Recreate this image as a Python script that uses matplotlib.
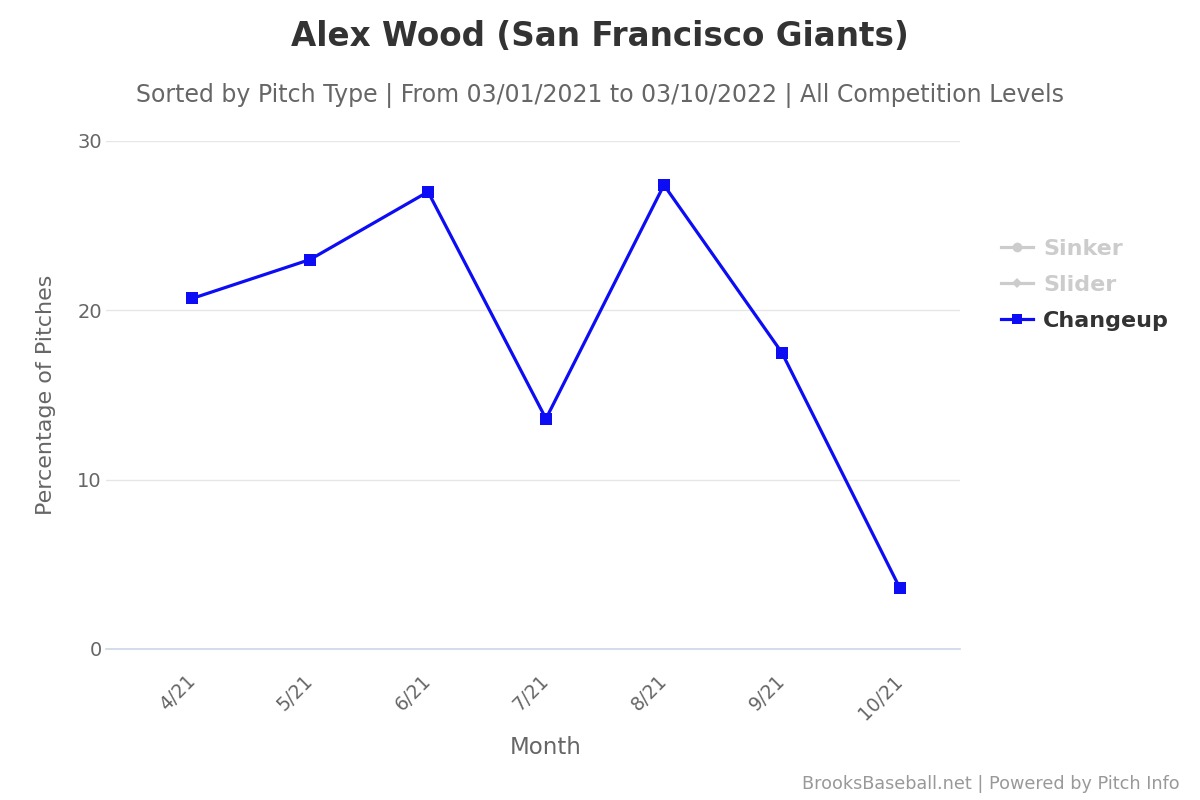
import matplotlib
matplotlib.use("Agg")
import matplotlib.pyplot as plt
from matplotlib.lines import Line2D

plt.rcParams["font.family"] = ["DejaVu Sans"]

months = ["4/21", "5/21", "6/21", "7/21", "8/21", "9/21", "10/21"]
changeup = [20.7, 23.0, 27.0, 13.6, 27.4, 17.5, 3.6]
legend_names = ["Sinker", "Slider", "Changeup"]
y_ticks = [0, 10, 20, 30]

fig = plt.figure(figsize=(12, 8), dpi=100)
ax = fig.add_axes([106/1200, 1-649/800, (960-106)/1200, (649-141)/800])

x = list(range(len(months)))
ax.plot(x, changeup, color="#0c0cf5", lw=2.3, marker="s", markersize=8,
        markeredgewidth=0, zorder=3, clip_on=False)

ax.set_xlim(-0.73, 6.51)
ax.set_ylim(0, 30)
ax.set_yticks(y_ticks)
ax.set_xticks(x)
ax.set_xticklabels(months, rotation=45, ha="right", va="center", rotation_mode="anchor")
ax.grid(axis="y", color="#e6e6e6", lw=1)
ax.set_axisbelow(True)
for s in ["top", "right", "left"]:
    ax.spines[s].set_visible(False)
ax.spines["bottom"].set_color("#ccd6eb")
ax.spines["bottom"].set_linewidth(1.2)
ax.tick_params(axis="both", length=0, labelcolor="#666666")
ax.tick_params(axis="y", pad=3, labelsize=14)
ax.tick_params(axis="x", pad=21, labelsize=13.5)
for lab in ax.get_yticklabels():
    lab.set_horizontalalignment("right")

ax.set_ylabel("Percentage of Pitches", color="#666666", fontsize=16, labelpad=15)
ax.set_xlabel("Month", color="#666666", fontsize=16.5, va="center")
ax.xaxis.set_label_coords((546-106)/854, (649-748)/508)

fig.text(0.5, 1-36/800, "Alex Wood (San Francisco Giants)", ha="center", va="center",
         fontsize=23.5, fontweight="bold", color="#333333")
fig.text(0.5, 1-96/800, "Sorted by Pitch Type | From 03/01/2021 to 03/10/2022 | All Competition Levels",
         ha="center", va="center", fontsize=17, color="#666666")
fig.text(1180/1200, 1-784/800, "BrooksBaseball.net | Powered by Pitch Info", ha="right",
         va="center", fontsize=12.7, color="#999999")

handles = [
    Line2D([], [], color="#cccccc", lw=2.3, marker="o", markersize=7, markeredgewidth=0),
    Line2D([], [], color="#cccccc", lw=2.3, marker="D", markersize=5, markeredgewidth=0),
    Line2D([], [], color="#0c0cf5", lw=2.3, marker="s", markersize=7, markeredgewidth=0),
]
leg = fig.legend(handles, legend_names, loc="upper left", bbox_to_anchor=(981/1200, 1-219/800),
                 frameon=False, handlelength=1.45, handletextpad=0.45, labelspacing=0.72,
                 prop={"size": 16, "weight": "bold"})
for t, c in zip(leg.get_texts(), ["#cccccc", "#cccccc", "#333333"]):
    t.set_color(c)

fig.savefig("out.png", dpi=100)
